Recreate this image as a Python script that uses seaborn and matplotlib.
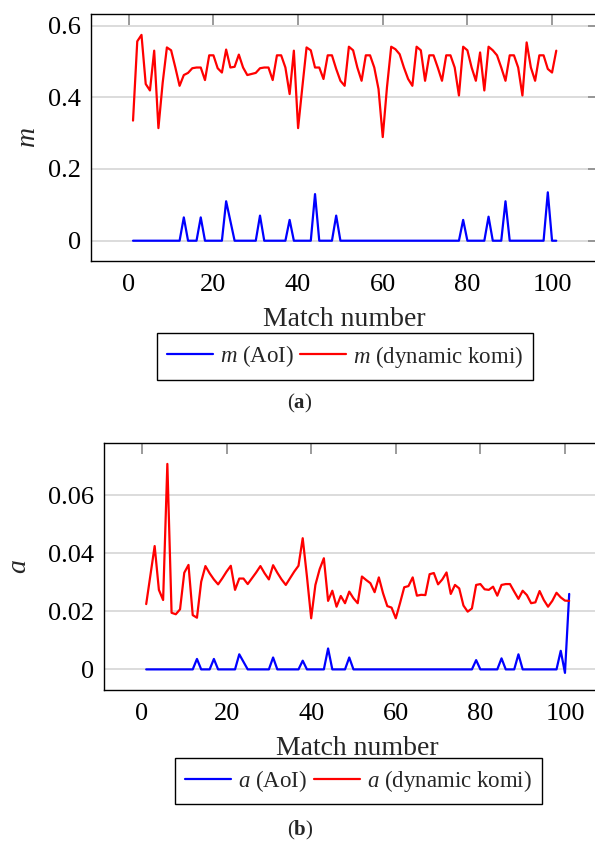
import matplotlib
matplotlib.use("Agg")
import matplotlib.pyplot as plt
import pandas as pd
import seaborn as sns

# match numbers 1..101
match = list(range(1, 102))

m_aoi = [0, 0, 0, 0, 0, 0, 0, 0, 0, 0,
         0, 0, .065, 0, 0, 0, .065, 0, 0, 0,
         0, 0, .11, .055, 0, 0, 0, 0, 0, 0,
         .07, 0, 0, 0, 0, 0, 0, .058, 0, 0,
         0, 0, 0, .13, 0, 0, 0, 0, .07, 0,
         0, 0, 0, 0, 0, 0, 0, 0, 0, 0,
         0, 0, 0, 0, 0, 0, 0, 0, 0, 0,
         0, 0, 0, 0, 0, 0, 0, 0, .058, 0,
         0, 0, 0, 0, .067, 0, 0, 0, .11, 0,
         0, 0, 0, 0, 0, 0, 0, 0, .135, 0,
         0]

m_komi = [.335, .556, .574, .437, .419, .530, .314, .44, .539, .531,
          .483, .432, .462, .468, .481, .483, .483, .448, .517, .517,
          .481, .469, .533, .483, .485, .519, .483, .462, .465, .468,
          .481, .483, .483, .448, .517, .517, .483, .409, .530, .314,
          .428, .539, .531, .483, .483, .451, .517, .517, .479, .446,
          .432, .541, .531, .483, .446, .517, .517, .483, .423, .289,
          .428, .541, .534, .520, .483, .451, .432, .541, .531, .446,
          .517, .517, .483, .446, .517, .517, .483, .405, .541, .531,
          .483, .446, .525, .419, .541, .531, .517, .483, .446, .517,
          .517, .483, .405, .553, .483, .446, .517, .517, .479, .469,
          .530]

a_aoi = [0, 0, 0, 0, 0, 0, 0, 0, 0, 0,
         0, 0, .0036, 0, 0, 0, .0036, 0, 0, 0,
         0, 0, .0052, .0026, 0, 0, 0, 0, 0, 0,
         .0041, 0, 0, 0, 0, 0, 0, .003, 0, 0,
         0, 0, 0, .0072, 0, 0, 0, 0, .0041, 0,
         0, 0, 0, 0, 0, 0, 0, 0, 0, 0,
         0, 0, 0, 0, 0, 0, 0, 0, 0, 0,
         0, 0, 0, 0, 0, 0, 0, 0, .0032, 0,
         0, 0, 0, 0, .0038, 0, 0, 0, .0052, 0,
         0, 0, 0, 0, 0, 0, 0, 0, .0064, -.0012,
         .026]

a_komi = [.0225, .0325, .0425, .0274, .0239, .0708, .0195, .019, .0207, .0333,
          .036, .0187, .0178, .0302, .0356, .0331, .031, .0293, .0314, .0337,
          .0357, .0274, .0313, .0313, .0294, .0314, .0334, .0356, .0331, .031,
          .0359, .0333, .031, .0291, .0314, .0337, .0357, .0452, .032, .0176,
          .0291, .0345, .0383, .0236, .0271, .0216, .0253, .0228, .0268, .0245,
          .0228, .032, .0308, .0297, .0266, .0317, .0262, .0218, .0213, .0176,
          .0228, .0283, .0287, .0317, .0254, .0257, .0256, .0328, .0332, .0293,
          .031, .0334, .026, .0291, .0279, .022, .0199, .021, .0291, .0294,
          .0276, .0274, .0285, .0254, .0291, .0294, .0294, .0268, .0243, .0271,
          .0256, .0228, .0231, .027, .0239, .0216, .0236, .0264, .0248, .0237,
          .0236]

x_ticks = [0, 20, 40, 60, 80, 100]
m_ticks = [0, 0.2, 0.4, 0.6]
m_ticklabels = ["0", "0.2", "0.4", "0.6"]
a_ticks = [0, 0.02, 0.04, 0.06]
a_ticklabels = ["0", "0.02", "0.04", "0.06"]

sns.set_theme(style="white")
plt.rcParams['font.family'] = ['Liberation Serif', 'DejaVu Serif']
plt.rcParams['mathtext.fontset'] = 'custom'
plt.rcParams['mathtext.rm'] = 'Liberation Serif'
plt.rcParams['mathtext.it'] = 'Liberation Serif:italic'
plt.rcParams['mathtext.bf'] = 'Liberation Serif:bold'

W, H = 595, 843


def make_panel(fig, rect, aoi, komi, sym, yticks, yticklabels, ylim, ylabel_x,
               legend_xy, caption, caption_y):
    ax = fig.add_axes([rect[0] / W, 1 - rect[3] / H, (rect[2] - rect[0]) / W,
                       (rect[3] - rect[1]) / H])
    df = pd.DataFrame({
        'match': match * 2,
        'value': aoi + komi,
        'series': ['$%s$ (AoI)' % sym] * len(match) + ['$%s$ (dynamic komi)' % sym] * len(match),
    })
    sns.lineplot(data=df, x='match', y='value', hue='series',
                 palette=['#0000ff', '#ff0000'], linewidth=1.6,
                 errorbar=None, ax=ax)
    ax.get_legend().remove()

    ax.set_xlim(-9, 111)
    ax.set_ylim(*ylim)
    ax.set_xticks(x_ticks)
    ax.set_xticklabels([str(t) for t in x_ticks])
    ax.set_yticks(yticks)
    ax.set_yticklabels(yticklabels)
    ax.tick_params(axis='both', direction='in', length=8, width=1.2,
                   color='#8a8a8a', labelsize=19, top=True, right=True,
                   labelcolor='black')
    ax.tick_params(axis='x', pad=9)
    ax.tick_params(axis='y', pad=7)
    ax.yaxis.grid(True, color='#d6d6d6', linewidth=1.2)
    ax.xaxis.grid(False)
    ax.set_axisbelow(True)
    for s in ax.spines.values():
        s.set_color('black')
        s.set_linewidth(1.0)

    ax.set_xlabel('Match number', fontsize=20, labelpad=8)
    ax.set_ylabel('$%s$' % sym, fontsize=20)
    ax.yaxis.set_label_coords(ylabel_x, 0.5)

    handles = ax.lines[:2]
    labels = ['$%s$ (AoI)' % sym, '$%s$ (dynamic komi)' % sym]
    ax.legend(handles, labels, ncol=2, loc='center',
              bbox_to_anchor=(legend_xy[0] / W, 1 - legend_xy[1] / H),
              bbox_transform=fig.transFigure, frameon=True, fancybox=False,
              edgecolor='black', framealpha=1, fontsize=16.5, handlelength=2.0,
              handletextpad=0.3, columnspacing=0.3, borderpad=0.45,
              borderaxespad=0)
    ax.get_legend().get_frame().set_linewidth(1.0)

    fig.text(300 / W, 1 - caption_y / H, caption, ha='center', va='center',
             fontsize=15)
    return ax


fig = plt.figure(figsize=(W / 100, H / 100), dpi=100)

make_panel(fig, (90.7, 14.3, 598.6, 261.3), m_aoi, m_komi, 'm',
           m_ticks, m_ticklabels, (-0.0574, 0.6314), -0.098,
           (345, 356.5), r'($\mathbf{a}$)', 403)

make_panel(fig, (103.9, 443.3, 611.5, 690), a_aoi, a_komi, 'a',
           a_ticks, a_ticklabels, (-0.0071, 0.0779), -0.142,
           (358.5, 781), r'($\mathbf{b}$)', 830)

fig.savefig('out.png', dpi=100)
